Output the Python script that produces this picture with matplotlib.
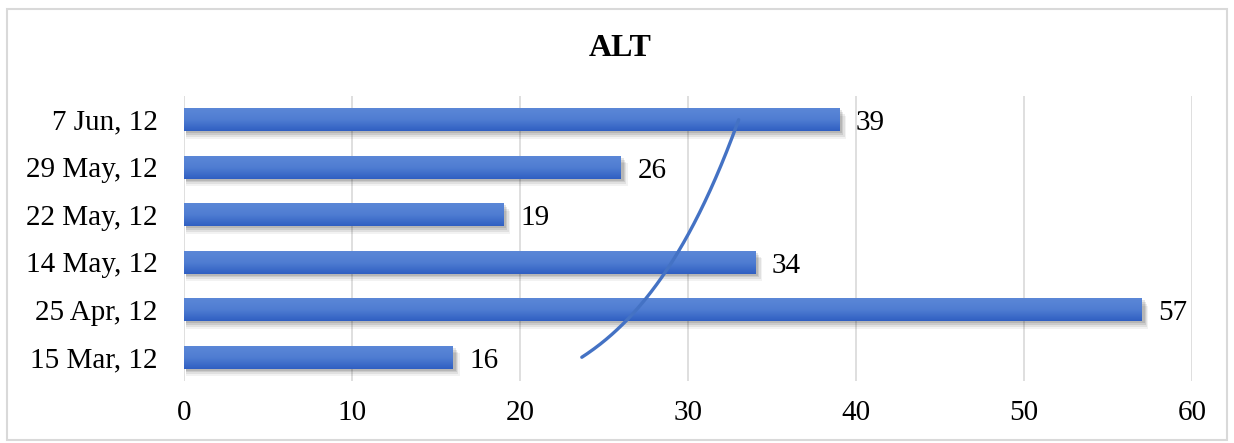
import numpy as np
import matplotlib
matplotlib.use("Agg")
import matplotlib.pyplot as plt
from matplotlib.patches import Rectangle

# data
dates = ["15 Mar, 12", "25 Apr, 12", "14 May, 12", "22 May, 12", "29 May, 12", "7 Jun, 12"]
alt = [16, 57, 34, 19, 26, 39]
xticks = [0, 10, 20, 30, 40, 50, 60]

plt.rcParams['font.family'] = ['Liberation Serif', 'DejaVu Serif']

fig = plt.figure(figsize=(12.34, 4.43), dpi=100)
ax = fig.add_axes([184 / 1234, 62 / 443, 1008 / 1234, 285 / 443])

ypos = np.arange(len(dates))
bar_h = 0.48

# soft drop shadow under each bar
for dx, dy, a in [(0.30, -0.16, 0.05), (0.22, -0.12, 0.07), (0.15, -0.08, 0.09), (0.08, -0.04, 0.10)]:
    ax.barh(ypos + dy, np.array(alt) + dx, height=bar_h, left=0.1,
            color='black', alpha=a, linewidth=0, zorder=2)

bars = ax.barh(ypos, alt, height=bar_h, color='#4472C4', linewidth=0, zorder=3)

# vertical gradient on the bars (lighter on top)
grad = np.linspace(0, 1, 64).reshape(-1, 1)
cmap = matplotlib.colors.LinearSegmentedColormap.from_list('g', ['#305FC2', '#4F7DD2', '#5B87D7'])
for b in bars:
    x0, y0 = b.get_x(), b.get_y()
    im = ax.imshow(grad, extent=[x0, x0 + b.get_width(), y0, y0 + b.get_height()],
                   origin='lower', cmap=cmap, aspect='auto', zorder=4)
    im.set_clip_path(b)

# value labels
for y, v in zip(ypos, alt):
    ax.text(v + 1.0, y - 0.07, str(v), va='center', ha='left', fontsize=21, color='black', zorder=5)

# power trendline (as in the source chart), fitted on category number 1..n
n = np.arange(1, len(alt) + 1)
b_pow, ln_a = np.polyfit(np.log(n), np.log(alt), 1)
t = np.linspace(1, len(alt), 200)
trend = np.exp(ln_a) * t ** b_pow
ax.plot(trend, t - 1, color='#4472C4', linewidth=2.4, zorder=6, solid_capstyle='round')

ax.set_xlim(0, 60)
ax.set_ylim(-0.5, len(dates) - 0.5)
ax.set_xticks(xticks)
ax.set_yticks(ypos)
ax.set_yticklabels(dates)
ax.tick_params(axis='both', length=0, labelsize=21)
ax.tick_params(axis='y', pad=19)
ax.tick_params(axis='x', pad=14)
ax.grid(axis='x', color='#D9D9D9', linewidth=1.2, zorder=0)
ax.set_axisbelow(True)
for s in ax.spines.values():
    s.set_visible(False)

fig.text(620 / 1234, 1 - 48 / 443, "ALT", ha='center', va='center',
         fontsize=23, fontweight='bold')

# chart border
fig.patches.append(Rectangle((7 / 1234, 3 / 443), 1220 / 1234, 431 / 443,
                             transform=fig.transFigure, fill=False,
                             edgecolor='#D9D9D9', linewidth=1.5))

fig.savefig('out.png', dpi=100)
